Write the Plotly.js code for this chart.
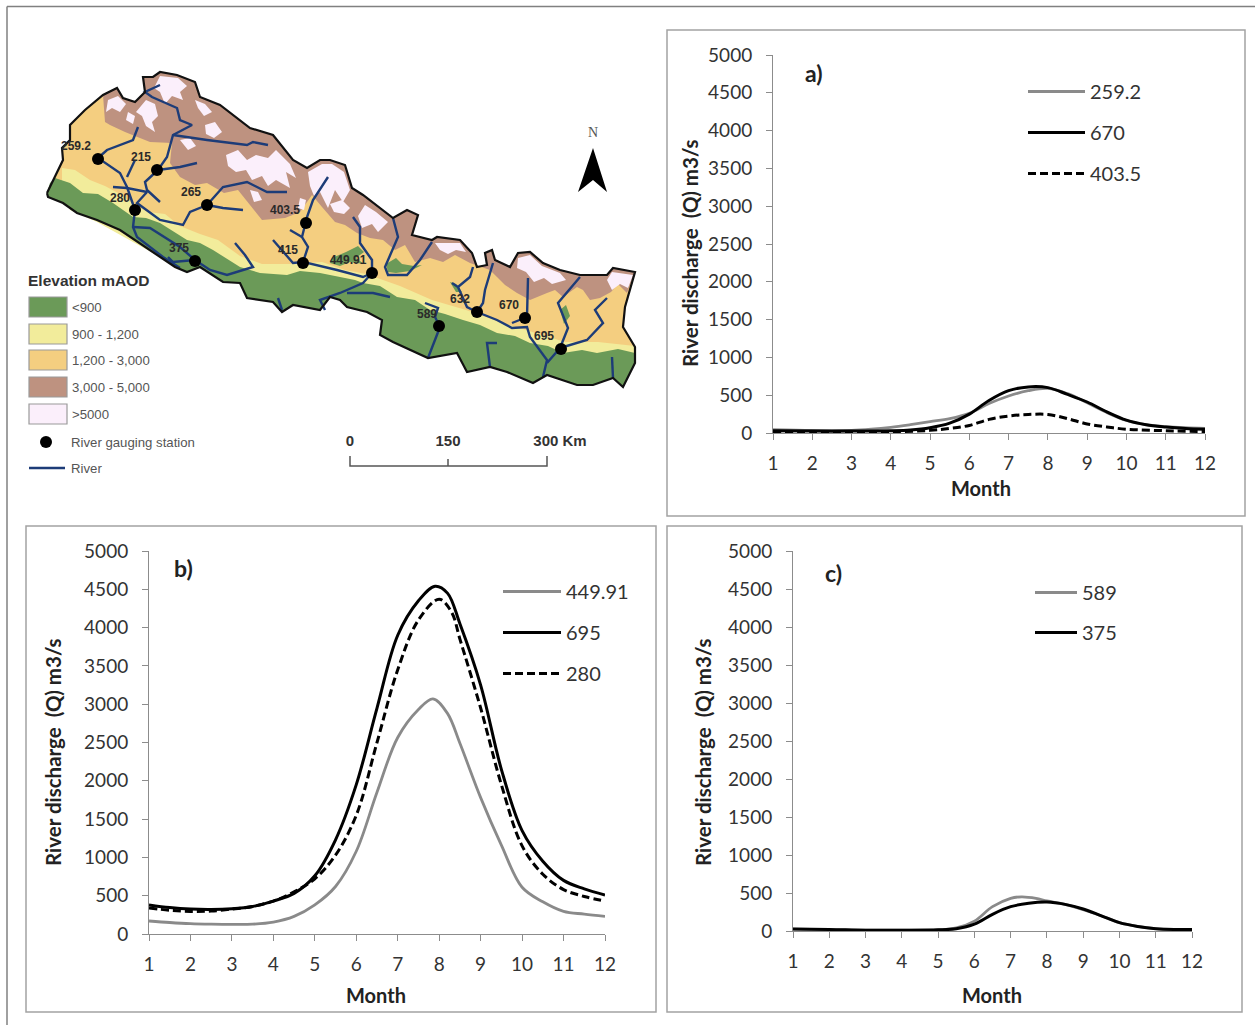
<!DOCTYPE html>
<html><head><meta charset="utf-8">
<script src="https://cdn.plot.ly/plotly-3.0.1.min.js"></script>
<style>html,body{margin:0;padding:0;background:#fff}#chart{width:1255px;height:1025px}</style>
</head><body><div id="chart"></div>
<script>
// ---------- chart data ----------
const xA1=[1,2,3,3.5,4,4.5,5,5.5,6,6.5,7,7.5,8,8.5,9,9.5,10,10.5,11,11.5,12];
const q2592=[45,35,35,50,75,110,150,190,260,390,490,560,590,520,400,270,165,110,85,70,60];
const xA2=[1,2,3,4,4.5,5,5.5,6,6.5,7,7.5,8,8.5,9,9.5,10,10.5,11,11.5,12];
const q670=[30,25,25,30,40,70,130,250,430,560,610,600,510,410,280,170,110,80,60,50];
const xA3=[1,2,3,4,5,5.5,6,6.5,7,7.5,8,8.5,9,9.5,10,11,12];
const q4035=[10,10,10,15,35,60,100,180,225,245,245,190,120,80,50,30,20];

const xB1=[1,1.5,2,2.5,3,3.5,4,4.5,5,5.5,6,6.5,7,7.5,7.85,8.2,8.5,9,9.5,10,10.5,11,11.5,12];
const q44991=[170,150,135,128,125,128,155,230,380,620,1080,1850,2565,2930,3070,2880,2490,1780,1160,610,420,295,260,230];
const xB2=[1,1.5,2,2.5,3,3.5,4,4.5,5,5.5,6,6.5,7,7.5,7.9,8.2,8.5,9,9.5,10,10.5,11,11.5,12];
const q695=[380,345,325,320,330,360,430,530,760,1230,1950,2950,3900,4350,4540,4450,4050,3250,2150,1350,950,700,590,510];
const xB3=[1,1.5,2,2.5,3,3.5,4,4.5,5,5.5,6,6.5,7,7.5,8,8.3,8.5,9,9.5,10,10.5,11,11.5,12];
const q280=[340,310,295,300,325,360,430,550,720,1030,1550,2500,3450,4100,4370,4200,3850,2950,1950,1150,780,580,490,430];

const xC1=[1,2,3,4,5,5.5,6,6.5,7,7.3,7.7,8,8.5,9,9.5,10,10.5,11,11.5,12];
const q589=[25,18,12,10,15,40,130,320,430,450,430,395,350,280,200,110,60,30,20,20];
const xC2=[1,2,3,4,5,5.5,6,6.5,7,7.5,8,8.5,9,9.5,10,10.5,11,11.5,12];
const q375=[25,20,10,10,15,30,90,220,320,365,380,350,290,200,110,60,30,20,20];

const months=[1,2,3,4,5,6,7,8,9,10,11,12];
const dischargeTicks=[0,500,1000,1500,2000,2500,3000,3500,4000,4500,5000];

// ---------- map data (map units) ----------
const outlineNorthWest=[[47,193],[55,177],[63,160],[62,148],[70,140],[70,125],[85,110]];
const outlineNorth=[[103,95],[117,88],[123,98],[135,102],[145,92],[143,77],[153,77],[160,72],[177,75],[195,82],[200,97],[220,105],[250,128],[273,135],[293,160],[307,168],[320,160],[330,160],[345,165],[352,188],[363,195],[393,218],[407,210],[418,215],[412,235],[432,240],[437,237],[460,240],[472,253],[477,267],[487,265],[485,253],[492,250],[495,260],[510,267],[518,253],[530,252],[543,263],[560,270],[580,275],[607,275],[613,268],[635,272]];
const outlineSouth=[[625,307],[623,327],[635,347],[635,363],[623,387],[613,378],[593,385],[577,385],[547,375],[533,383],[507,372],[490,367],[467,372],[457,353],[428,358],[393,342],[380,335],[382,320],[367,312],[347,307],[340,300],[330,297],[320,310],[293,305],[282,312],[273,302],[247,298],[240,283],[223,282],[200,267],[187,272],[175,267],[130,237],[120,230],[97,220],[77,213],[63,203],[48,197]];
const brownLower=[[627,293],[618,284],[611,292],[600,298],[590,300],[583,290],[577,287],[563,297],[555,290],[547,293],[530,300],[517,293],[505,285],[497,277],[490,270],[470,263],[455,255],[443,262],[430,258],[415,262],[405,245],[395,250],[383,240],[370,238],[357,233],[345,225],[335,222],[322,207],[312,195],[300,212],[285,218],[262,220],[250,205],[238,190],[224,193],[207,183],[195,185],[180,177],[170,163],[172,143],[150,142],[140,138],[125,132],[110,125],[105,122]];
const snowPatches=[
 [[160,76],[178,78],[187,86],[180,92],[183,100],[172,96],[165,104],[160,92],[154,88]],
 [[108,100],[118,96],[126,104],[120,112],[112,108],[106,112]],
 [[146,100],[155,104],[158,116],[152,122],[155,132],[146,126],[142,116],[136,112]],
 [[226,155],[238,150],[247,160],[256,155],[268,158],[276,150],[290,164],[296,178],[286,172],[290,188],[276,180],[268,186],[262,176],[252,180],[246,170],[236,172],[228,166]],
 [[308,172],[322,164],[332,164],[344,172],[350,190],[343,202],[335,190],[328,208],[320,192],[314,196],[310,186]],
 [[330,204],[342,200],[350,208],[344,214],[334,212]],
 [[365,205],[376,212],[388,222],[378,232],[372,224],[362,228],[358,216]],
 [[435,243],[460,243],[466,252],[456,250],[448,254],[440,250]],
 [[518,258],[530,255],[542,266],[560,273],[566,280],[552,284],[544,278],[534,282],[526,272],[517,268]],
 [[612,272],[633,275],[628,288],[620,284],[612,290],[607,280]],
 [[195,100],[205,104],[212,112],[204,116],[198,108]],
 [[205,125],[215,122],[222,132],[214,138],[206,134]],
 [[180,140],[190,138],[196,146],[188,150]],
 [[128,112],[135,116],[133,124],[126,120]],
 [[250,190],[258,192],[262,200],[254,202]],
 [[300,198],[306,200],[304,210],[298,208]]
];
const yellowTop=[[62,168],[75,170],[90,180],[105,186],[120,194],[134,205],[148,212],[165,214],[180,226],[200,234],[218,240],[240,256],[262,264],[290,264],[322,262],[345,270],[366,274],[384,280],[400,286],[432,300],[466,310],[500,322],[532,332],[565,342],[598,342],[635,346]];
const greenTop=[[47,193],[50,183],[55,178],[70,183],[83,193],[98,194],[113,203],[133,217],[146,218],[160,223],[187,240],[200,243],[213,250],[240,267],[260,273],[287,275],[300,271],[320,273],[340,277],[355,280],[363,283],[380,286],[397,297],[415,300],[430,310],[445,314],[463,320],[480,325],[497,333],[515,336],[530,343],[548,346],[563,353],[582,350],[597,353],[618,349],[635,353]];
const greenPatches=[
 [[332,258],[346,252],[358,246],[364,252],[356,258],[364,264],[350,262],[340,266],[330,263]],
 [[386,264],[396,258],[402,264],[414,266],[422,265],[410,271],[396,273],[388,272]],
 [[450,282],[456,284],[462,292],[456,292]],
 [[560,310],[566,305],[570,316],[564,324]]
];
const riverPaths=[
 [[160,85],[145,92],[152,97],[177,108],[180,120],[192,125],[173,135],[167,157],[158,170],[145,182],[147,190],[160,202]],
 [[173,135],[207,140],[247,145],[253,142],[268,145]],
 [[158,170],[180,167],[197,163]],
 [[138,127],[133,140],[107,150],[98,158],[120,173],[127,187],[135,210],[133,227],[137,237],[163,257],[180,268]],
 [[135,160],[127,177]],
 [[113,187],[127,188],[147,192],[137,203],[160,220],[183,225],[190,212],[207,205],[223,187],[247,182],[267,192],[287,192]],
 [[207,205],[223,208],[243,210]],
 [[133,227],[150,228],[180,247],[195,260],[210,270],[227,275],[253,267],[245,255],[235,243]],
 [[168,257],[173,262],[195,260]],
 [[328,177],[313,200],[307,217],[302,237],[308,247],[303,262],[337,270],[363,277],[372,273]],
 [[290,230],[302,237]],
 [[273,240],[293,263],[303,262]],
 [[372,273],[363,283],[340,293],[320,300],[325,310]],
 [[347,293],[373,293],[390,297]],
 [[353,217],[360,227],[360,243],[372,260],[372,273]],
 [[393,218],[398,237],[385,267],[388,275],[407,275],[420,260],[432,242]],
 [[473,267],[470,277],[458,287],[452,283]],
 [[458,287],[467,307],[477,312],[497,320],[512,328],[527,327],[530,337],[547,360],[543,377]],
 [[493,263],[485,290],[483,303],[477,312]],
 [[528,278],[527,317],[512,323]],
 [[580,277],[558,303],[568,328],[560,348],[547,363]],
 [[607,298],[595,310],[603,323],[587,340],[560,348]],
 [[612,357],[613,378]],
 [[497,343],[487,343],[490,367]],
 [[425,303],[438,308],[435,317],[440,327],[428,358]],
 [[278,298],[282,310]]
];
const stationNames=['259.2','215','265','280','375','403.5','415','449.91','589','632','670','695'];
const stationX=[98,157,207,135,195,306,303,372,439,477,525,561];
const stationY=[159,170,205,210,261,223,263,273,326,312,318,349];
const stationLabelX=[76,141,191,120,179,285,288,348,427,460,509,544];
const stationLabelY=[145,156,191,197,247,209,249,259,313,298,304,335];
const elevationClasses=['<900','900 - 1,200','1,200 - 3,000','3,000 - 5,000','>5000'];
const elevationColors=['#6B9A58','#F2EC9B','#F4CE80','#BE9280','#FBEFFB'];
const elevationY=[307,334,360,387,414];

const GREEN=elevationColors[0],YELLOW=elevationColors[1],TAN=elevationColors[2],BROWN=elevationColors[3],SNOW=elevationColors[4];
const RIVER='#1D3C78';

function poly(pairs,color){return {type:'scatter',mode:'lines',x:pairs.map(p=>p[0]),y:pairs.map(p=>p[1]),fill:'toself',fillcolor:color,line:{width:0,color:color},showlegend:false,hoverinfo:'skip'};}
function multi(list,color,line){const x=[],y=[];list.forEach(l=>{l.forEach(p=>{x.push(p[0]);y.push(p[1]);});if(!line){x.push(l[0][0]);y.push(l[0][1]);}x.push(null);y.push(null);});
 return line?{type:'scatter',mode:'lines',x,y,line:{color,width:line,shape:'linear'},showlegend:false,hoverinfo:'skip',connectgaps:false}
 :{type:'scatter',mode:'lines',x,y,fill:'toself',fillcolor:color,line:{width:0,color},showlegend:false,hoverinfo:'skip'};}
function txt(x,y,t,size,color,pos,bold,fam){return {type:'scatter',mode:'text',x:[x],y:[y+1.5],text:[bold?'<b>'+t+'</b>':t],textposition:pos||'middle center',textfont:{size,color,family:fam||'"Liberation Sans",Arial,sans-serif'},showlegend:false,hoverinfo:'skip',cliponaxis:false};}

const outline=outlineNorthWest.concat(outlineNorth,outlineSouth);
const traces=[];
traces.push(poly(outline,TAN));
traces.push(poly(outlineNorth.concat(brownLower),BROWN));
traces.push(multi(snowPatches,SNOW));
traces.push(poly(yellowTop.concat(outlineSouth.slice(2,-7),[[97,222],[70,210],[62,190]]),YELLOW));
traces.push(poly(greenTop.concat(outlineSouth.slice(2)),GREEN));
traces.push(multi(greenPatches,GREEN));
traces.push(multi(riverPaths,RIVER,2.4));
traces.push({type:'scatter',mode:'lines',x:outline.concat([outline[0]]).map(p=>p[0]),y:outline.concat([outline[0]]).map(p=>p[1]),line:{color:'#111',width:2.2},showlegend:false,hoverinfo:'skip'});
traces.push({type:'scatter',mode:'markers',x:stationX,y:stationY,marker:{color:'#000',size:12},showlegend:false,hoverinfo:'skip'});
stationNames.forEach((n,i)=>traces.push(txt(stationLabelX[i],stationLabelY[i],n,12,'#2a2a2a','middle center',true)));

// map legend
traces.push(txt(28,281,'Elevation mAOD',15.5,'#333','middle right',true));
elevationClasses.forEach((c,i)=>traces.push(txt(72,elevationY[i],c.replace('<','&lt;'),13.2,'#555','middle right')));
traces.push({type:'scatter',mode:'markers',x:[46],y:[442],marker:{color:'#000',size:12},showlegend:false,hoverinfo:'skip'});
traces.push(txt(71,442,'River gauging station',13.2,'#555','middle right'));
traces.push({type:'scatter',mode:'lines',x:[29,65],y:[468,468],line:{color:RIVER,width:2.4},showlegend:false,hoverinfo:'skip'});
traces.push(txt(71,468,'River',13.2,'#555','middle right'));

// scale bar and north arrow
traces.push({type:'scatter',mode:'lines',x:[350,350,547,547,null,448,448],y:[456,466,466,456,null,459,466],line:{color:'#555',width:1.5},showlegend:false,hoverinfo:'skip'});
traces.push(txt(350,441,'0',15,'#333','middle center',true));
traces.push(txt(448,441,'150',15,'#333','middle center',true));
traces.push(txt(560,441,'300 Km',15,'#333','middle center',true));
traces.push(poly([[593,148],[607,192],[593,180],[578,192]],'#000'));
traces.push(txt(593,131.5,'N',14,'#555','middle center',false,'"Liberation Serif",serif'));

// discharge curves
function curve(name,x,y,color,ax,lg,dash){return {type:'scatter',mode:'lines',name,x,y,xaxis:'x'+ax,yaxis:'y'+ax,legend:lg,legendgroup:name,cliponaxis:false,
 line:{color,width:color==='#000000'?3:2.8,shape:'spline',smoothing:1,dash:dash||'solid'},hoverinfo:'skip'};}
const GREY='#8A8A8A',BLACK='#000000',DASH='8px,4px';
traces.push(curve('259.2',xA1,q2592,GREY,2,'legend'));
traces.push(curve('670',xA2,q670,BLACK,2,'legend'));
traces.push(curve('403.5',xA3,q4035,BLACK,2,'legend',DASH));
traces.push(curve('449.91',xB1,q44991,GREY,3,'legend2'));
traces.push(curve('695',xB2,q695,BLACK,3,'legend2'));
traces.push(curve('280',xB3,q280,BLACK,3,'legend2',DASH));
traces.push(curve('589',xC1,q589,GREY,4,'legend3'));
traces.push(curve('375',xC2,q375,BLACK,4,'legend3'));

const W=1255,H=1025;
const CAL='Lato,Calibri,sans-serif';
function xax(l,r,anchor){return {domain:[l/W,r/W],range:[1,12],anchor,tickmode:'array',tickvals:months,ticktext:months.map(String),
 ticks:'outside',ticklen:6,tickcolor:'#8c8c8c',tickwidth:1,showline:true,linecolor:'#8c8c8c',linewidth:1,showgrid:false,zeroline:false,ticklabelstandoff:7,
 tickfont:{family:CAL,size:19,color:'#333'}};}
function yax(t,b,anchor){return {domain:[1-b/H,1-t/H],range:[0,5000],anchor,tickmode:'array',tickvals:dischargeTicks,
 ticks:'outside',ticklen:6,tickcolor:'#8c8c8c',tickwidth:1,showline:true,linecolor:'#8c8c8c',linewidth:1,showgrid:false,zeroline:false,ticklabelstandoff:10,
 tickfont:{family:CAL,size:19,color:'#333'}};}
function lgd(px,py,w,gap){return {x:px/W,y:1-py/H,xanchor:'left',yanchor:'top',bgcolor:'rgba(0,0,0,0)',itemwidth:w,traceorder:'grouped',tracegroupgap:gap,
 font:{family:CAL,size:20,color:'#333'},itemclick:false,itemdoubleclick:false};}
function frame(x0,y0,x1,y1,c){return {type:'rect',xref:'x',yref:'y',x0,y0,x1,y1,line:{color:c||'#a3a3a3',width:1.5},layer:'below'};}
function note(x,y,t,size,rot){return {xref:'x',yref:'y',x,y,text:'<b>'+t+'</b>',showarrow:false,textangle:rot||0,font:{family:CAL,size,color:'#222'}};}

const shapes=[
 {type:'line',xref:'x',yref:'y',x0:7,y0:6.5,x1:1255,y1:6.5,line:{color:'#808080',width:1.5}},
 {type:'line',xref:'x',yref:'y',x0:7,y0:6.5,x1:7,y1:1025,line:{color:'#808080',width:1.5}},
 frame(667,30,1245,516),frame(26,526,656,1012),frame(667,526,1242,1012)
];
elevationColors.forEach((c,i)=>shapes.push({type:'rect',xref:'x',yref:'y',x0:29,x1:67,y0:elevationY[i]-10,y1:elevationY[i]+10,fillcolor:c,line:{color:'#9a9a9a',width:1.2},layer:'below'}));

const MONTH_TITLE='Month',Q_TITLE='River discharge  (Q) m3/s';
const layout={width:W,height:H,margin:{l:0,r:0,t:0,b:0},paper_bgcolor:'#fff',plot_bgcolor:'rgba(0,0,0,0)',showlegend:true,
 xaxis:{domain:[0,1],range:[0,W],visible:false,fixedrange:true},
 yaxis:{domain:[0,1],range:[H,0],visible:false,fixedrange:true},
 xaxis2:xax(773,1205,'y2'),yaxis2:yax(55,433,'x2'),
 xaxis3:xax(149,605,'y3'),yaxis3:yax(551,934,'x3'),
 xaxis4:xax(793,1192,'y4'),yaxis4:yax(551,931,'x4'),
 legend:lgd(1023,72,57,12),legend2:lgd(498,572,58,12),legend3:lgd(1030,573,42,11),
 shapes,
 annotations:[
  note(814,73,'a)',23),note(183,568,'b)',23),note(833,573,'c)',23),
  note(981,488,MONTH_TITLE,20),note(376,995,MONTH_TITLE,20),note(992,995,MONTH_TITLE,20),
  note(690,253,Q_TITLE,20.5,-90),note(53,752,Q_TITLE,20.5,-90),note(703,752,Q_TITLE,20.5,-90)
 ]};
Plotly.newPlot('chart',traces,layout,{displayModeBar:false,staticPlot:false,responsive:false});
</script></body></html>
